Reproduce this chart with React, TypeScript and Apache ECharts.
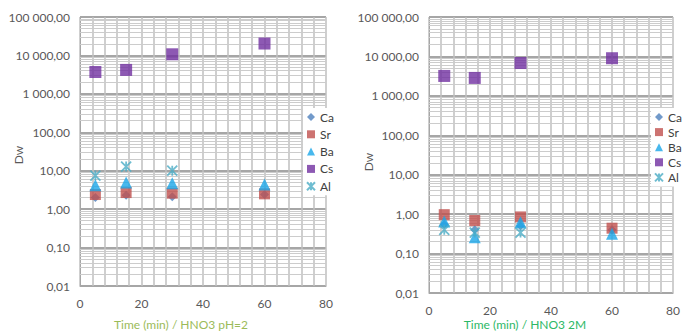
import React, { useEffect, useRef } from "react";
import * as echarts from "echarts";

const times = [5, 15, 30, 60];

// Left chart: HNO3 pH=2
const caPH2 = [2.0, 2.3, 2.1, 2.4];
const srPH2 = [2.4, 2.7, 2.6, 2.5];
const baPH2 = [4.2, 4.9, 4.7, 4.4];
const csPH2 = [3700, 4200, 10700, 20400];
const alPH2 = [7.5, 12.8, 10.0, null];

// Right chart: HNO3 2M
const ca2M = [0.55, 0.4, 0.5, 0.4];
const sr2M = [0.97, 0.69, 0.85, 0.44];
const ba2M = [0.65, 0.26, 0.62, 0.32];
const cs2M = [3200, 2850, 6800, 9000];
const al2M = [0.4, 0.34, 0.34, null];

const seriesNames = ["Ca", "Sr", "Ba", "Cs", "Al"];
const decades = [0.01, 0.1, 1, 10, 100, 1000, 10000];
const minorMultipliers = [2, 3, 4, 5, 6, 7, 8, 9];

const leftTitle = "Time (min) / HNO3 pH=2";
const rightTitle = "Time (min) / HNO3 2M";
const yName = "Dw";

const colors: Record<string, string> = {
  Ca: "#4F81BD",
  Sr: "#C0504D",
  Ba: "#1AA6E8",
  Cs: "#7030A0",
  Al: "#4BACC6",
};

const starPath = "path://M0,0L10,10M10,0L0,10M5,0L5,10";

const symbols: Record<string, string> = {
  Ca: "diamond",
  Sr: "rect",
  Ba: "triangle",
  Cs: "rect",
  Al: starPath,
};
const sizes: Record<string, number> = { Ca: 9, Sr: 11, Ba: 12, Cs: 12, Al: 10 };

function fmt(v: number): string {
  const s = (Math.round(v * 100) / 100).toFixed(2);
  const [ip, dp] = s.split(".");
  const withSp = ip.replace(/\B(?=(\d{3})+(?!\d))/g, " ");
  return withSp + "," + dp;
}

export default function App() {
  const ref = useRef<HTMLDivElement>(null);
  useEffect(() => {
    if (!ref.current) return;
    const chart = echarts.init(ref.current, undefined, { renderer: "svg" });
    const font = "Lato, 'Open Sans', sans-serif";

    const minorValues: number[] = [];
    decades.forEach((d) => minorMultipliers.forEach((m) => minorValues.push(parseFloat((d * m).toPrecision(3)))));

    const grids = [
      { left: 80, right: 357, top: 17, bottom: 46 },
      { left: 429, right: 9, top: 17, bottom: 39 },
    ];

    const xAxes = grids.map((_, i) => ({
      type: "value",
      gridIndex: i,
      min: 0,
      max: 80,
      interval: 20,
      axisLine: { show: true, lineStyle: { color: "#A6A6A6", width: 1 } },
      axisTick: { show: false },
      axisLabel: { color: "#595959", fontSize: 12, fontFamily: font, margin: 11 },
      splitLine: { show: true, lineStyle: { color: "#BFBFBF", width: 1.5 } },
      minorTick: { show: false, splitNumber: 5 },
      minorSplitLine: { show: true, lineStyle: { color: "#BFBFBF", width: 1.5 } },
    }));

    const yAxes = grids.map((_, i) => ({
      type: "log",
      logBase: 10,
      gridIndex: i,
      min: 0.01,
      max: 100000,
      splitNumber: 7,
      axisLine: { show: true, lineStyle: { color: "#A6A6A6", width: 1 } },
      axisTick: { show: false },
      axisLabel: {
        color: "#595959",
        fontSize: 12,
        fontFamily: font,
        margin: 10,
        formatter: (v: number) => fmt(v),
      },
      splitLine: { show: true, lineStyle: { color: "#A6A6A6", width: 2 } },
    }));

    const dataSets = [
      [caPH2, srPH2, baPH2, csPH2, alPH2],
      [ca2M, sr2M, ba2M, cs2M, al2M],
    ];

    const series: any[] = [];
    [0, 1].forEach((gi) => {
      series.push({
        type: "scatter",
        name: "grid" + gi,
        xAxisIndex: gi,
        yAxisIndex: gi,
        data: [],
        silent: true,
        z: 1,
        markLine: {
          silent: true,
          z: 1,
          symbol: ["none", "none"],
          label: { show: false },
          lineStyle: { color: "#CCCCCC", width: 1, type: "solid" },
          data: minorValues.map((v) => ({ yAxis: v })),
        },
      });
      seriesNames.forEach((name, si) => {
        const vals = dataSets[gi][si];
        const isStar = name === "Al";
        series.push({
          type: "scatter",
          name,
          xAxisIndex: gi,
          yAxisIndex: gi,
          z: 3,
          symbol: symbols[name],
          symbolSize: sizes[name],
          itemStyle: isStar
            ? { color: colors[name], borderColor: colors[name], borderWidth: 1.8 }
            : { color: colors[name] },
          data: times
            .map((t, k) => [t, vals[k]])
            .filter((p) => p[1] !== null && p[1] !== undefined),
        });
      });
    });

    const legendBase = {
      orient: "vertical",
      itemWidth: 8,
      itemHeight: 8,
      backgroundColor: "#ffffff",
      padding: [3, 4, 3, 3],
      textStyle: { color: "#404040", fontSize: 12, fontFamily: font, lineHeight: 12 },
      data: seriesNames,
      selectedMode: false,
      z: 6,
    };

    chart.setOption({
      animation: false,
      backgroundColor: "#ffffff",
      grid: grids,
      xAxis: xAxes,
      yAxis: yAxes,
      legend: [
        { ...legendBase, left: 303, top: 108, itemGap: 5.3 },
        { ...legendBase, left: 651, top: 108, itemGap: 3.1 },
      ],
      graphic: [
        {
          type: "text",
          x: 181,
          y: 324,
          style: {
            text: leftTitle,
            fill: "#9BBB59",
            fontSize: 12,
            fontFamily: font,
            textAlign: "center",
            textVerticalAlign: "middle",
          },
        },
        {
          type: "text",
          x: 525,
          y: 324,
          style: {
            text: rightTitle,
            fill: "#2DB866",
            fontSize: 12,
            fontFamily: font,
            textAlign: "center",
            textVerticalAlign: "middle",
          },
        },
        {
          type: "text",
          x: 18,
          y: 155,
          rotation: Math.PI / 2,
          style: {
            text: yName,
            fill: "#595959",
            fontSize: 12,
            fontFamily: font,
            textAlign: "center",
            textVerticalAlign: "middle",
          },
        },
        {
          type: "text",
          x: 368,
          y: 162,
          rotation: Math.PI / 2,
          style: {
            text: yName,
            fill: "#595959",
            fontSize: 12,
            fontFamily: font,
            textAlign: "center",
            textVerticalAlign: "middle",
          },
        },
      ],
      series,
    });
    return () => chart.dispose();
  }, []);
  return (
    <div
      ref={ref}
      style={{ position: "absolute", left: 0, top: 0, width: 683, height: 332 }}
    />
  );
}
